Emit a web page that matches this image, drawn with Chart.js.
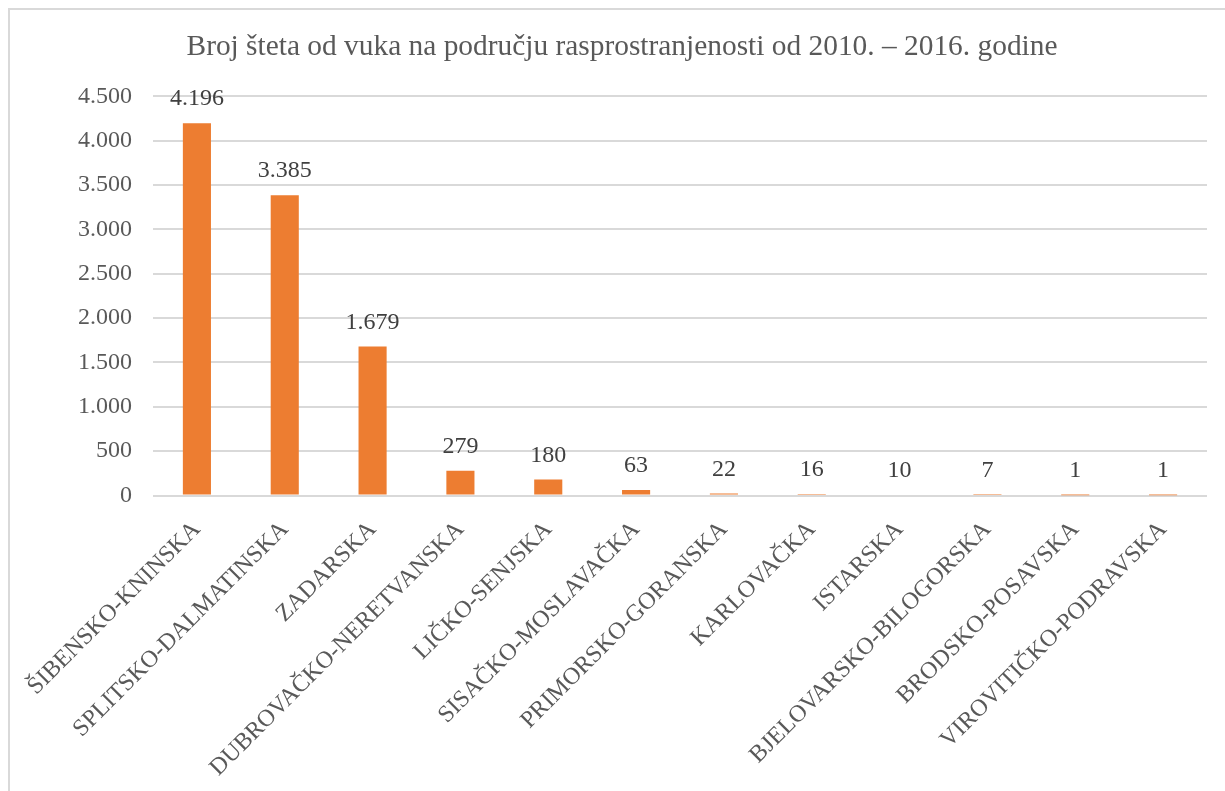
<!DOCTYPE html>
<html>
<head>
<meta charset="utf-8">
<script src="https://cdn.jsdelivr.net/npm/chart.js@4"></script>
<style>
  body { margin: 0; background: #fff; }
  canvas { display: block; }
</style>
</head>
<body>
<canvas id="wolfChart" width="1225" height="791"></canvas>
<script>
const counties = ['ŠIBENSKO-KNINSKA', 'SPLITSKO-DALMATINSKA', 'ZADARSKA', 'DUBROVAČKO-NERETVANSKA',
  'LIČKO-SENJSKA', 'SISAČKO-MOSLAVAČKA', 'PRIMORSKO-GORANSKA', 'KARLOVAČKA', 'ISTARSKA',
  'BJELOVARSKO-BILOGORSKA', 'BRODSKO-POSAVSKA', 'VIROVITIČKO-PODRAVSKA'];
const damages = [4196, 3385, 1679, 279, 180, 63, 22, 16, 10, 7, 1, 1];
const yTicks = [0, 500, 1000, 1500, 2000, 2500, 3000, 3500, 4000, 4500];

const serif = '"Liberation Serif", "Times New Roman", serif';
const textColor = '#595959';
const gridColor = '#d9d9d9';

// 4196 -> "4.196"
const fmt = (v) => String(v).replace(/\B(?=(\d{3})+(?!\d))/g, '.');

const frame = {
  id: 'frame',
  beforeDraw(chart) {
    const c = chart.ctx;
    c.save();
    c.fillStyle = '#fff';
    c.fillRect(0, 0, chart.width, chart.height);
    c.strokeStyle = gridColor;
    c.lineWidth = 2;
    c.beginPath();
    c.moveTo(9, chart.height);
    c.lineTo(9, 9);
    c.lineTo(chart.width, 9);
    c.stroke();
    c.restore();
  },
};

const valueLabels = {
  id: 'valueLabels',
  afterDatasetsDraw(chart) {
    const c = chart.ctx;
    c.save();
    c.font = '24px ' + serif;
    c.fillStyle = '#404040';
    c.textAlign = 'center';
    c.textBaseline = 'alphabetic';
    chart.getDatasetMeta(0).data.forEach((bar, i) => {
      c.fillText(fmt(damages[i]), bar.x, bar.y - 18);
    });
    c.restore();
  },
};

const ctx = document.getElementById('wolfChart').getContext('2d');
const wolfChart = new Chart(ctx, {
  type: 'bar',
  data: {
    labels: counties,
    datasets: [
      {
        label: 'Broj šteta',
        data: damages,
        backgroundColor: '#ED7D31',
        barPercentage: 0.32,
        categoryPercentage: 1,
      },
    ],
  },
  options: {
    responsive: false,
    animation: false,
    layout: { padding: { left: 37, right: 18, top: 0, bottom: 0 } },
    plugins: {
      legend: { display: false },
      tooltip: { enabled: false },
      title: {
        display: true,
        text: 'Broj šteta od vuka na području rasprostranjenosti od 2010. – 2016. godine',
        color: textColor,
        font: { family: serif, size: 29.4, weight: 'normal' },
        padding: { top: 30, bottom: 31 },
      },
    },
    scales: {
      x: {
        grid: { display: false },
        border: { display: false },
        ticks: {
          color: textColor,
          font: { family: serif, size: 24 },
          minRotation: 45,
          maxRotation: 45,
          padding: 12,
          autoSkip: false,
        },
        afterFit(scale) { scale.height = 791 - 495.5; },
      },
      y: {
        min: 0,
        max: 4500,
        afterBuildTicks(scale) { scale.ticks = yTicks.map((v) => ({ value: v })); },
        grid: { color: gridColor, lineWidth: 2, drawTicks: false },
        border: { display: false },
        ticks: {
          color: textColor,
          font: { family: serif, size: 24 },
          padding: 21,
          callback: (v) => fmt(v),
        },
        afterFit(scale) { scale.width = 116; },
      },
    },
  },
  plugins: [frame, valueLabels],
});
</script>
</body>
</html>
